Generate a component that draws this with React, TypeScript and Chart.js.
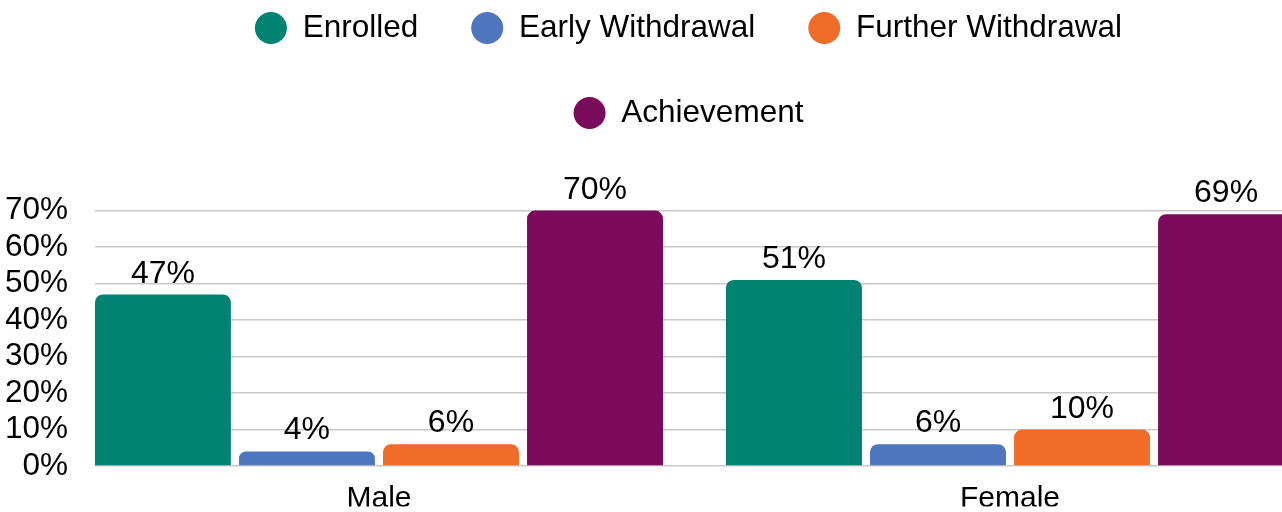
import React, { useEffect, useRef } from 'react';
import { Chart, registerables } from 'chart.js';

Chart.register(...registerables);

const FONT = "'Liberation Sans', Arial, Helvetica, sans-serif";

const CATEGORIES = ['Male', 'Female'];
const SERIES_NAMES = ['Enrolled', 'Early Withdrawal', 'Further Withdrawal', 'Achievement'];
const ENROLLED = [47, 51];
const EARLY_WITHDRAWAL = [4, 6];
const FURTHER_WITHDRAWAL = [6, 10];
const ACHIEVEMENT = [70, 69];
const Y_TICKS = [0, 10, 20, 30, 40, 50, 60, 70];
const COLORS = ['#008272', '#4E76BE', '#F16C28', '#7A0A5A'];

const SERIES = [ENROLLED, EARLY_WITHDRAWAL, FURTHER_WITHDRAWAL, ACHIEVEMENT];

const valueLabels = {
  id: 'valueLabels',
  afterDatasetsDraw(chart: any) {
    const ctx = chart.ctx;
    ctx.save();
    ctx.font = `32px ${FONT}`;
    ctx.fillStyle = '#000';
    ctx.textAlign = 'center';
    ctx.textBaseline = 'alphabetic';
    chart.data.datasets.forEach((ds: any, di: number) => {
      const meta = chart.getDatasetMeta(di);
      meta.data.forEach((el: any, i: number) => {
        const v = ds.data[i].y;
        ctx.fillText(`${v}%`, el.x, el.y - 12);
      });
    });
    ctx.restore();
  },
};

export default function App() {
  const ref = useRef<HTMLCanvasElement | null>(null);

  useEffect(() => {
    if (!ref.current) return;
    Chart.defaults.font.family = FONT;
    const chart = new Chart(ref.current, {
      type: 'bar',
      data: {
        datasets: SERIES.map((vals, si) => ({
          label: SERIES_NAMES[si],
          data: vals.map((v, ci) => ({ x: ci, y: v })),
          backgroundColor: COLORS[si],
          borderWidth: 0,
          borderRadius: 8,
          categoryPercentage: 0.913,
          barPercentage: 0.944,
          clip: false,
        })),
      },
      options: {
        responsive: false,
        animation: false,
        layout: { padding: { top: -41, left: 6, right: 0, bottom: 0 } },
        plugins: {
          tooltip: { enabled: false },
          legend: {
            position: 'top',
            fullSize: false,
            align: 'center',
            labels: {
              font: { size: 31.5, family: FONT },
              color: '#000',
              boxWidth: 32,
              boxHeight: 32,
              useBorderRadius: true,
              borderRadius: 16,
              padding: 53,
            },
          },
        },
        scales: {
          x: {
            type: 'linear',
            offset: false,
            min: -0.45,
            max: 1.431,
            afterBuildTicks: (scale: any) => {
              scale.ticks = CATEGORIES.map((_, i) => ({ value: i }));
            },
            afterFit: (scale: any) => {
              scale.height = 40.4;
            },
            grid: { display: false, offset: false },
            border: { display: false },
            ticks: {
              autoSkip: false,
              maxRotation: 0,
              padding: 10,
              color: '#000',
              font: { size: 30, family: FONT, lineHeight: 1 },
              callback: (v: any) => CATEGORIES[v] ?? '',
            },
          },
          y: {
            min: 0,
            max: 89.6,
            afterBuildTicks: (scale: any) => {
              scale.ticks = Y_TICKS.map((v) => ({ value: v }));
            },
            afterFit: (scale: any) => {
              scale.width = 89;
            },
            grid: { color: '#C8C8C8', drawTicks: false, lineWidth: 1.5 },
            border: { display: false },
            ticks: {
              padding: 27,
              color: '#000',
              font: { size: 31.5, family: FONT },
              callback: (v: any) => `${v}%`,
            },
          },
        },
      },
      plugins: [valueLabels],
    } as any);
    return () => chart.destroy();
  }, []);

  return (
    <div style={{ position: 'fixed', left: 0, top: 0, width: 1282, height: 512, background: '#fff' }}>
      <canvas ref={ref} width={1282} height={512} style={{ display: 'block' }} />
    </div>
  );
}
